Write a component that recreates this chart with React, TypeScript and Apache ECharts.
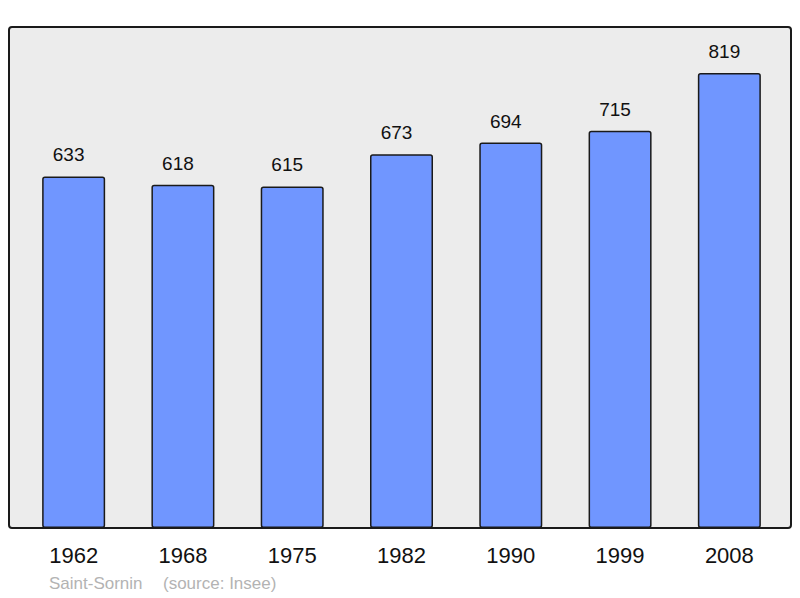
import React, { useEffect, useRef } from "react";
import * as echarts from "echarts";

const years = ["1962", "1968", "1975", "1982", "1990", "1999", "2008"];
const population = [633, 618, 615, 673, 694, 715, 819];
const footerPlace = "Saint-Sornin";
const footerSource = "(source: Insee)";

const FONT = "'Liberation Sans', Arial, sans-serif";

export default function App() {
  const ref = useRef<HTMLDivElement>(null);
  useEffect(() => {
    if (!ref.current) return;
    const chart = echarts.init(ref.current, undefined, { renderer: "svg" });
    chart.setOption({
      animation: false,
      grid: { left: 19, right: 16, top: 27, bottom: 70, containLabel: false },
      graphic: [
        {
          type: "rect",
          z: -10,
          shape: { x: 9, y: 27, width: 782, height: 501, r: 3 },
          style: { fill: "#ececec", stroke: "#1a1a1a", lineWidth: 2 },
        },
        {
          type: "text",
          left: 49,
          top: 575,
          style: { text: footerPlace, fill: "#b3b3b3", font: `17px ${FONT}` },
        },
        {
          type: "text",
          left: 163,
          top: 575,
          style: { text: footerSource, fill: "#b3b3b3", font: `17px ${FONT}` },
        },
      ],
      xAxis: {
        type: "category",
        data: years,
        axisLine: { show: false },
        axisTick: { show: false },
        axisLabel: {
          color: "#111",
          fontSize: 22,
          fontFamily: FONT,
          margin: 16,
        },
      },
      yAxis: {
        type: "value",
        min: 0,
        max: 902,
        show: false,
        splitLine: { show: false },
      },
      series: [
        {
          type: "bar",
          data: population,
          barWidth: 63,
          itemStyle: {
            color: "#7096ff",
            borderColor: "#1a1a1a",
            borderWidth: 1.5,
            borderRadius: 2,
          },
          label: {
            show: true,
            position: "top",
            distance: 12,
            offset: [-5, 0],
            color: "#111",
            fontSize: 19,
            fontFamily: FONT,
          },
        },
      ],
    });
    return () => chart.dispose();
  }, []);
  return <div ref={ref} style={{ width: 800, height: 598, position: "absolute", left: 0, top: 0 }} />;
}
